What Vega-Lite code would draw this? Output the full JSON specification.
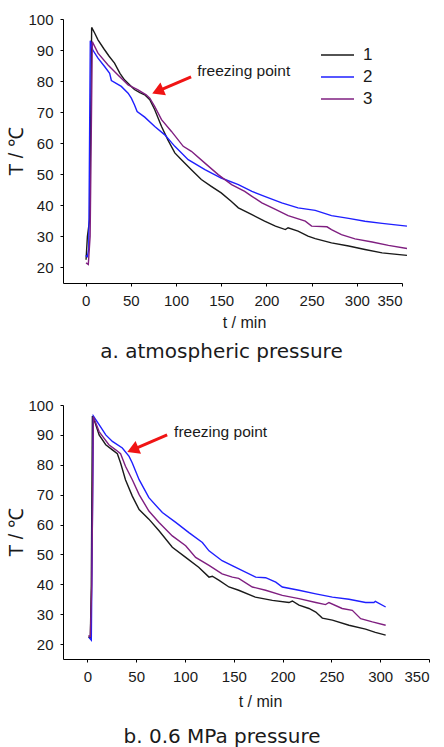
{
  "$schema": "https://vega.github.io/schema/vega-lite/v6.json",
  "padding": {"left": 6, "top": 12, "right": 0, "bottom": 0},
  "autosize": {"type": "pad"},
  "spacing": 36,
  "config": {
    "view": {"stroke": null},
    "font": "Liberation Sans",
    "axis": {
      "grid": false,
      "domainColor": "#000000",
      "tickColor": "#000000",
      "labelColor": "#1a1a1a",
      "titleColor": "#1a1a1a",
      "labelFont": "Liberation Sans",
      "titleFont": "Liberation Sans",
      "labelFontSize": 15,
      "titleFontSize": 16,
      "titleFontWeight": "normal",
      "tickSize": 3,
      "domainWidth": 1,
      "labelPadding": 7,
      "labelOverlap": false,
      "labelBound": false
    },
    "axisY": {"titleFontSize": 20},
    "legend": {
      "title": null,
      "symbolType": "stroke",
      "symbolSize": 1089,
      "symbolStrokeWidth": 1.6,
      "labelFont": "Liberation Sans",
      "labelFontSize": 17,
      "labelColor": "#1a1a1a",
      "labelOffset": 8,
      "padding": 0,
      "clipHeight": 20,
      "rowPadding": 2
    },
    "title": {
      "orient": "bottom",
      "font": "DejaVu Sans",
      "fontSize": 20,
      "fontWeight": "normal",
      "color": "#1a1a1a",
      "anchor": "middle",
      "offset": 12
    }
  },
  "datasets": {
    "curvesA": [
      {"series": "1", "t": 0.5, "T": 22.5}, {"series": "1", "t": 2, "T": 30}, {"series": "1", "t": 4.5, "T": 35.5}, {"series": "1", "t": 6.7, "T": 97.3},
      {"series": "1", "t": 10, "T": 95.5}, {"series": "1", "t": 13.7, "T": 93.3}, {"series": "1", "t": 20, "T": 90.5}, {"series": "1", "t": 26, "T": 88},
      {"series": "1", "t": 32, "T": 85.8}, {"series": "1", "t": 38, "T": 82.5}, {"series": "1", "t": 43, "T": 80.4}, {"series": "1", "t": 50.6, "T": 78.3},
      {"series": "1", "t": 54, "T": 77.3}, {"series": "1", "t": 60, "T": 76.3}, {"series": "1", "t": 65.4, "T": 75.6}, {"series": "1", "t": 71, "T": 74},
      {"series": "1", "t": 76.5, "T": 70.8}, {"series": "1", "t": 84, "T": 65.4}, {"series": "1", "t": 91, "T": 61.1}, {"series": "1", "t": 98.7, "T": 56.9},
      {"series": "1", "t": 106, "T": 54.7}, {"series": "1", "t": 117, "T": 51.5}, {"series": "1", "t": 128, "T": 48.3}, {"series": "1", "t": 139, "T": 46.1},
      {"series": "1", "t": 150, "T": 44}, {"series": "1", "t": 161, "T": 41.3}, {"series": "1", "t": 169, "T": 39.2}, {"series": "1", "t": 184, "T": 37},
      {"series": "1", "t": 198, "T": 34.9}, {"series": "1", "t": 210, "T": 33.3}, {"series": "1", "t": 221, "T": 32.2}, {"series": "1", "t": 224, "T": 32.8},
      {"series": "1", "t": 235, "T": 31.7}, {"series": "1", "t": 246, "T": 30.1}, {"series": "1", "t": 254, "T": 29.3}, {"series": "1", "t": 272, "T": 27.9},
      {"series": "1", "t": 291, "T": 26.9}, {"series": "1", "t": 309, "T": 25.8}, {"series": "1", "t": 328, "T": 24.7}, {"series": "1", "t": 355.5, "T": 23.9},

      {"series": "2", "t": 0, "T": 23.8}, {"series": "2", "t": 2, "T": 23.5}, {"series": "2", "t": 3.5, "T": 26}, {"series": "2", "t": 5.2, "T": 93},
      {"series": "2", "t": 8, "T": 90}, {"series": "2", "t": 13.7, "T": 87.4}, {"series": "2", "t": 21, "T": 84.7}, {"series": "2", "t": 26.6, "T": 82.5},
      {"series": "2", "t": 28.5, "T": 80.2}, {"series": "2", "t": 39.5, "T": 78.3}, {"series": "2", "t": 47, "T": 76.1}, {"series": "2", "t": 50.6, "T": 74.5},
      {"series": "2", "t": 54, "T": 72.4}, {"series": "2", "t": 57, "T": 70.2}, {"series": "2", "t": 65.4, "T": 68.4}, {"series": "2", "t": 76.5, "T": 65.4},
      {"series": "2", "t": 87.6, "T": 62.7}, {"series": "2", "t": 98.7, "T": 59}, {"series": "2", "t": 113.5, "T": 54.7}, {"series": "2", "t": 132, "T": 51.5},
      {"series": "2", "t": 150, "T": 48.8}, {"series": "2", "t": 169, "T": 46.7}, {"series": "2", "t": 184, "T": 44.5}, {"series": "2", "t": 198, "T": 42.9},
      {"series": "2", "t": 217, "T": 40.8}, {"series": "2", "t": 235, "T": 39.2}, {"series": "2", "t": 254, "T": 38.4}, {"series": "2", "t": 272, "T": 36.7},
      {"series": "2", "t": 291, "T": 35.8}, {"series": "2", "t": 309, "T": 34.9}, {"series": "2", "t": 328, "T": 34.2}, {"series": "2", "t": 355.5, "T": 33.3},

      {"series": "3", "t": 0.5, "T": 21.5}, {"series": "3", "t": 3, "T": 21}, {"series": "3", "t": 5, "T": 30}, {"series": "3", "t": 7.4, "T": 92.7},
      {"series": "3", "t": 13.7, "T": 89}, {"series": "3", "t": 24.8, "T": 85.2}, {"series": "3", "t": 35.8, "T": 82}, {"series": "3", "t": 47, "T": 78.8},
      {"series": "3", "t": 58, "T": 77.2}, {"series": "3", "t": 67, "T": 75.6}, {"series": "3", "t": 71, "T": 74.5}, {"series": "3", "t": 76.5, "T": 71.8},
      {"series": "3", "t": 84, "T": 67.6}, {"series": "3", "t": 95, "T": 63.8}, {"series": "3", "t": 108, "T": 59}, {"series": "3", "t": 117, "T": 57.4},
      {"series": "3", "t": 132, "T": 53.6}, {"series": "3", "t": 146.7, "T": 49.9}, {"series": "3", "t": 161.5, "T": 46.7}, {"series": "3", "t": 176, "T": 44.5},
      {"series": "3", "t": 184, "T": 42.9}, {"series": "3", "t": 195, "T": 40.8}, {"series": "3", "t": 210, "T": 38.7}, {"series": "3", "t": 224, "T": 36.7},
      {"series": "3", "t": 243, "T": 34.9}, {"series": "3", "t": 250, "T": 33.3}, {"series": "3", "t": 267, "T": 33.1}, {"series": "3", "t": 272, "T": 32.2},
      {"series": "3", "t": 283, "T": 30.6}, {"series": "3", "t": 298, "T": 29.2}, {"series": "3", "t": 317, "T": 28.2}, {"series": "3", "t": 335, "T": 27.1},
      {"series": "3", "t": 355.5, "T": 26.1}
    ],
    "curvesB": [
      {"series": "1", "t": 1, "T": 22.4}, {"series": "1", "t": 3, "T": 22}, {"series": "1", "t": 4, "T": 40}, {"series": "1", "t": 5.1, "T": 96.3},
      {"series": "1", "t": 8, "T": 94}, {"series": "1", "t": 12, "T": 90}, {"series": "1", "t": 18.8, "T": 86.7}, {"series": "1", "t": 25.6, "T": 85},
      {"series": "1", "t": 30.7, "T": 83.7}, {"series": "1", "t": 34, "T": 80.6}, {"series": "1", "t": 39, "T": 75}, {"series": "1", "t": 46, "T": 69.5},
      {"series": "1", "t": 53, "T": 65}, {"series": "1", "t": 63, "T": 61.8}, {"series": "1", "t": 73.4, "T": 57.9}, {"series": "1", "t": 87, "T": 52.4},
      {"series": "1", "t": 100.7, "T": 49}, {"series": "1", "t": 114, "T": 45.7}, {"series": "1", "t": 124.6, "T": 42.4}, {"series": "1", "t": 128, "T": 42.7},
      {"series": "1", "t": 135, "T": 41.3}, {"series": "1", "t": 145, "T": 39.1}, {"series": "1", "t": 155, "T": 38}, {"series": "1", "t": 172, "T": 35.7},
      {"series": "1", "t": 189.5, "T": 34.6}, {"series": "1", "t": 206.5, "T": 33.9}, {"series": "1", "t": 210, "T": 34.4}, {"series": "1", "t": 216.8, "T": 33},
      {"series": "1", "t": 227, "T": 31.9}, {"series": "1", "t": 234, "T": 30.7}, {"series": "1", "t": 240.7, "T": 28.7}, {"series": "1", "t": 251, "T": 28},
      {"series": "1", "t": 268, "T": 26.3}, {"series": "1", "t": 285, "T": 25}, {"series": "1", "t": 295, "T": 23.9}, {"series": "1", "t": 305.6, "T": 23},

      {"series": "2", "t": 1.7, "T": 22.2}, {"series": "2", "t": 4, "T": 21.3}, {"series": "2", "t": 6.1, "T": 96.3}, {"series": "2", "t": 12, "T": 93.4},
      {"series": "2", "t": 18.8, "T": 90}, {"series": "2", "t": 25.6, "T": 87.8}, {"series": "2", "t": 35.8, "T": 85.6}, {"series": "2", "t": 42.7, "T": 82.8},
      {"series": "2", "t": 46, "T": 80.6}, {"series": "2", "t": 53, "T": 75}, {"series": "2", "t": 63, "T": 69}, {"series": "2", "t": 76.8, "T": 64},
      {"series": "2", "t": 90.5, "T": 60.7}, {"series": "2", "t": 104, "T": 57.3}, {"series": "2", "t": 117.8, "T": 54}, {"series": "2", "t": 124.6, "T": 51.2},
      {"series": "2", "t": 138, "T": 47.9}, {"series": "2", "t": 152, "T": 45.7}, {"series": "2", "t": 172.4, "T": 42.4}, {"series": "2", "t": 182.6, "T": 42.2},
      {"series": "2", "t": 193, "T": 40.7}, {"series": "2", "t": 199.7, "T": 39.1}, {"series": "2", "t": 216.8, "T": 38}, {"series": "2", "t": 234, "T": 36.8},
      {"series": "2", "t": 251, "T": 35.7}, {"series": "2", "t": 268, "T": 35}, {"series": "2", "t": 285, "T": 33.9}, {"series": "2", "t": 293.6, "T": 33.9},
      {"series": "2", "t": 295, "T": 34.3}, {"series": "2", "t": 305.6, "T": 32.4},

      {"series": "3", "t": 1, "T": 22.8}, {"series": "3", "t": 3, "T": 22.5}, {"series": "3", "t": 4.5, "T": 40}, {"series": "3", "t": 6.1, "T": 96.1},
      {"series": "3", "t": 12, "T": 91.1}, {"series": "3", "t": 22, "T": 86.7}, {"series": "3", "t": 29, "T": 85}, {"series": "3", "t": 34, "T": 83.7},
      {"series": "3", "t": 39, "T": 79.5}, {"series": "3", "t": 46, "T": 75}, {"series": "3", "t": 53, "T": 70}, {"series": "3", "t": 63, "T": 64.5},
      {"series": "3", "t": 73.4, "T": 60.7}, {"series": "3", "t": 87, "T": 56.2}, {"series": "3", "t": 100.7, "T": 52.9}, {"series": "3", "t": 110.9, "T": 49},
      {"series": "3", "t": 124.6, "T": 46.3}, {"series": "3", "t": 138, "T": 43.5}, {"series": "3", "t": 148.5, "T": 42.4}, {"series": "3", "t": 155, "T": 42},
      {"series": "3", "t": 169, "T": 39.1}, {"series": "3", "t": 182.6, "T": 38}, {"series": "3", "t": 199.7, "T": 36.3}, {"series": "3", "t": 216.8, "T": 35.2},
      {"series": "3", "t": 234, "T": 33.9}, {"series": "3", "t": 244, "T": 33.2}, {"series": "3", "t": 247.5, "T": 33.9}, {"series": "3", "t": 261, "T": 31.9},
      {"series": "3", "t": 271.4, "T": 31.3}, {"series": "3", "t": 280, "T": 28.5}, {"series": "3", "t": 292, "T": 27.4}, {"series": "3", "t": 305.6, "T": 26.3}
    ],
    "noteA": [{"label": "freezing point", "t": 123.4, "T": 81.7, "tailT": 116.7, "tailTemp": 81.35, "headT": 81.8, "headTemp": 77.0}],
    "noteB": [{"label": "freezing point", "t": 88.8, "T": 89.4, "tailT": 81.7, "tailTemp": 90.0, "headT": 48.4, "headTemp": 85.3}]
  },
  "vconcat": [
    {
      "width": 339,
      "height": 264,
      "title": {"text": "a.  atmospheric pressure", "dx": -11},
      "layer": [
        {
          "data": {"name": "curvesA"},
          "mark": {"type": "line", "strokeWidth": 1.4, "interpolate": "linear"},
          "encoding": {
            "x": {"field": "t", "type": "quantitative", "scale": {"domain": [-25, 350], "nice": false, "zero": false},
                  "axis": {"values": [0, 50, 100, 150, 200, 250, 300, 350], "title": "t / min", "titleX": 181, "titlePadding": 6}},
            "y": {"field": "T", "type": "quantitative", "scale": {"domain": [15, 100], "nice": false, "zero": false},
                  "axis": {"values": [20, 30, 40, 50, 60, 70, 80, 90, 100], "title": "T / ℃", "titlePadding": 1}},
            "color": {"field": "series", "type": "nominal",
                      "scale": {"domain": ["1", "2", "3"], "range": ["#1a1a1a", "#1f1fff", "#7f1f80"]},
                      "legend": {"orient": "none", "legendX": 257, "legendY": 26}}
          }
        },
        {
          "data": {"name": "noteA"},
          "mark": {"type": "rule", "color": "#f01414", "strokeWidth": 3},
          "encoding": {
            "x": {"field": "tailT", "type": "quantitative", "scale": {"domain": [-25, 350], "nice": false, "zero": false},
                  "axis": {"values": [0, 50, 100, 150, 200, 250, 300, 350], "title": "t / min", "titleX": 181, "titlePadding": 6}},
            "y": {"field": "tailTemp", "type": "quantitative", "scale": {"domain": [15, 100], "nice": false, "zero": false},
                  "axis": {"values": [20, 30, 40, 50, 60, 70, 80, 90, 100], "title": "T / ℃", "titlePadding": 1}},
            "x2": {"field": "headT"},
            "y2": {"field": "headTemp"}
          }
        },
        {
          "data": {"name": "noteA"},
          "mark": {"type": "point", "shape": "triangle", "angle": 246.5, "size": 190, "filled": true, "color": "#f01414", "opacity": 1},
          "encoding": {
            "x": {"field": "headT", "type": "quantitative", "scale": {"domain": [-25, 350], "nice": false, "zero": false},
                  "axis": {"values": [0, 50, 100, 150, 200, 250, 300, 350], "title": "t / min", "titleX": 181, "titlePadding": 6}},
            "y": {"field": "headTemp", "type": "quantitative", "scale": {"domain": [15, 100], "nice": false, "zero": false},
                  "axis": {"values": [20, 30, 40, 50, 60, 70, 80, 90, 100], "title": "T / ℃", "titlePadding": 1}}
          }
        },
        {
          "data": {"name": "noteA"},
          "mark": {"type": "text", "align": "left", "baseline": "alphabetic", "fontSize": 15.5, "font": "Liberation Sans", "color": "#1a1a1a"},
          "encoding": {
            "x": {"field": "t", "type": "quantitative", "scale": {"domain": [-25, 350], "nice": false, "zero": false},
                  "axis": {"values": [0, 50, 100, 150, 200, 250, 300, 350], "title": "t / min", "titleX": 181, "titlePadding": 6}},
            "y": {"field": "T", "type": "quantitative", "scale": {"domain": [15, 100], "nice": false, "zero": false},
                  "axis": {"values": [20, 30, 40, 50, 60, 70, 80, 90, 100], "title": "T / ℃", "titlePadding": 1}},
            "text": {"field": "label"}
          }
        }
      ]
    },
    {
      "width": 366,
      "height": 254,
      "title": {"text": "b.  0.6 MPa pressure", "dx": -24, "offset": 18},
      "layer": [
        {
          "data": {"name": "curvesB"},
          "mark": {"type": "line", "strokeWidth": 1.4, "interpolate": "linear"},
          "encoding": {
            "x": {"field": "t", "type": "quantitative", "scale": {"domain": [-25, 350], "nice": false, "zero": false},
                  "axis": {"values": [0, 50, 100, 150, 200, 250, 300, 350], "title": "t / min", "titleX": 197, "titlePadding": 9}},
            "y": {"field": "T", "type": "quantitative", "scale": {"domain": [15, 100], "nice": false, "zero": false},
                  "axis": {"values": [20, 30, 40, 50, 60, 70, 80, 90, 100], "title": "T / ℃", "titlePadding": 1}},
            "color": {"field": "series", "type": "nominal",
                      "scale": {"domain": ["1", "2", "3"], "range": ["#1a1a1a", "#1f1fff", "#7f1f80"]},
                      "legend": {"orient": "none", "legendX": 252, "legendY": 13}}
          }
        },
        {
          "data": {"name": "noteB"},
          "mark": {"type": "rule", "color": "#f01414", "strokeWidth": 3},
          "encoding": {
            "x": {"field": "tailT", "type": "quantitative", "scale": {"domain": [-25, 350], "nice": false, "zero": false},
                  "axis": {"values": [0, 50, 100, 150, 200, 250, 300, 350], "title": "t / min", "titleX": 197, "titlePadding": 9}},
            "y": {"field": "tailTemp", "type": "quantitative", "scale": {"domain": [15, 100], "nice": false, "zero": false},
                  "axis": {"values": [20, 30, 40, 50, 60, 70, 80, 90, 100], "title": "T / ℃", "titlePadding": 1}},
            "x2": {"field": "headT"},
            "y2": {"field": "headTemp"}
          }
        },
        {
          "data": {"name": "noteB"},
          "mark": {"type": "point", "shape": "triangle", "angle": 246.5, "size": 190, "filled": true, "color": "#f01414", "opacity": 1},
          "encoding": {
            "x": {"field": "headT", "type": "quantitative", "scale": {"domain": [-25, 350], "nice": false, "zero": false},
                  "axis": {"values": [0, 50, 100, 150, 200, 250, 300, 350], "title": "t / min", "titleX": 197, "titlePadding": 9}},
            "y": {"field": "headTemp", "type": "quantitative", "scale": {"domain": [15, 100], "nice": false, "zero": false},
                  "axis": {"values": [20, 30, 40, 50, 60, 70, 80, 90, 100], "title": "T / ℃", "titlePadding": 1}}
          }
        },
        {
          "data": {"name": "noteB"},
          "mark": {"type": "text", "align": "left", "baseline": "alphabetic", "fontSize": 15.5, "font": "Liberation Sans", "color": "#1a1a1a"},
          "encoding": {
            "x": {"field": "t", "type": "quantitative", "scale": {"domain": [-25, 350], "nice": false, "zero": false},
                  "axis": {"values": [0, 50, 100, 150, 200, 250, 300, 350], "title": "t / min", "titleX": 197, "titlePadding": 9}},
            "y": {"field": "T", "type": "quantitative", "scale": {"domain": [15, 100], "nice": false, "zero": false},
                  "axis": {"values": [20, 30, 40, 50, 60, 70, 80, 90, 100], "title": "T / ℃", "titlePadding": 1}},
            "text": {"field": "label"}
          }
        }
      ]
    }
  ]
}
